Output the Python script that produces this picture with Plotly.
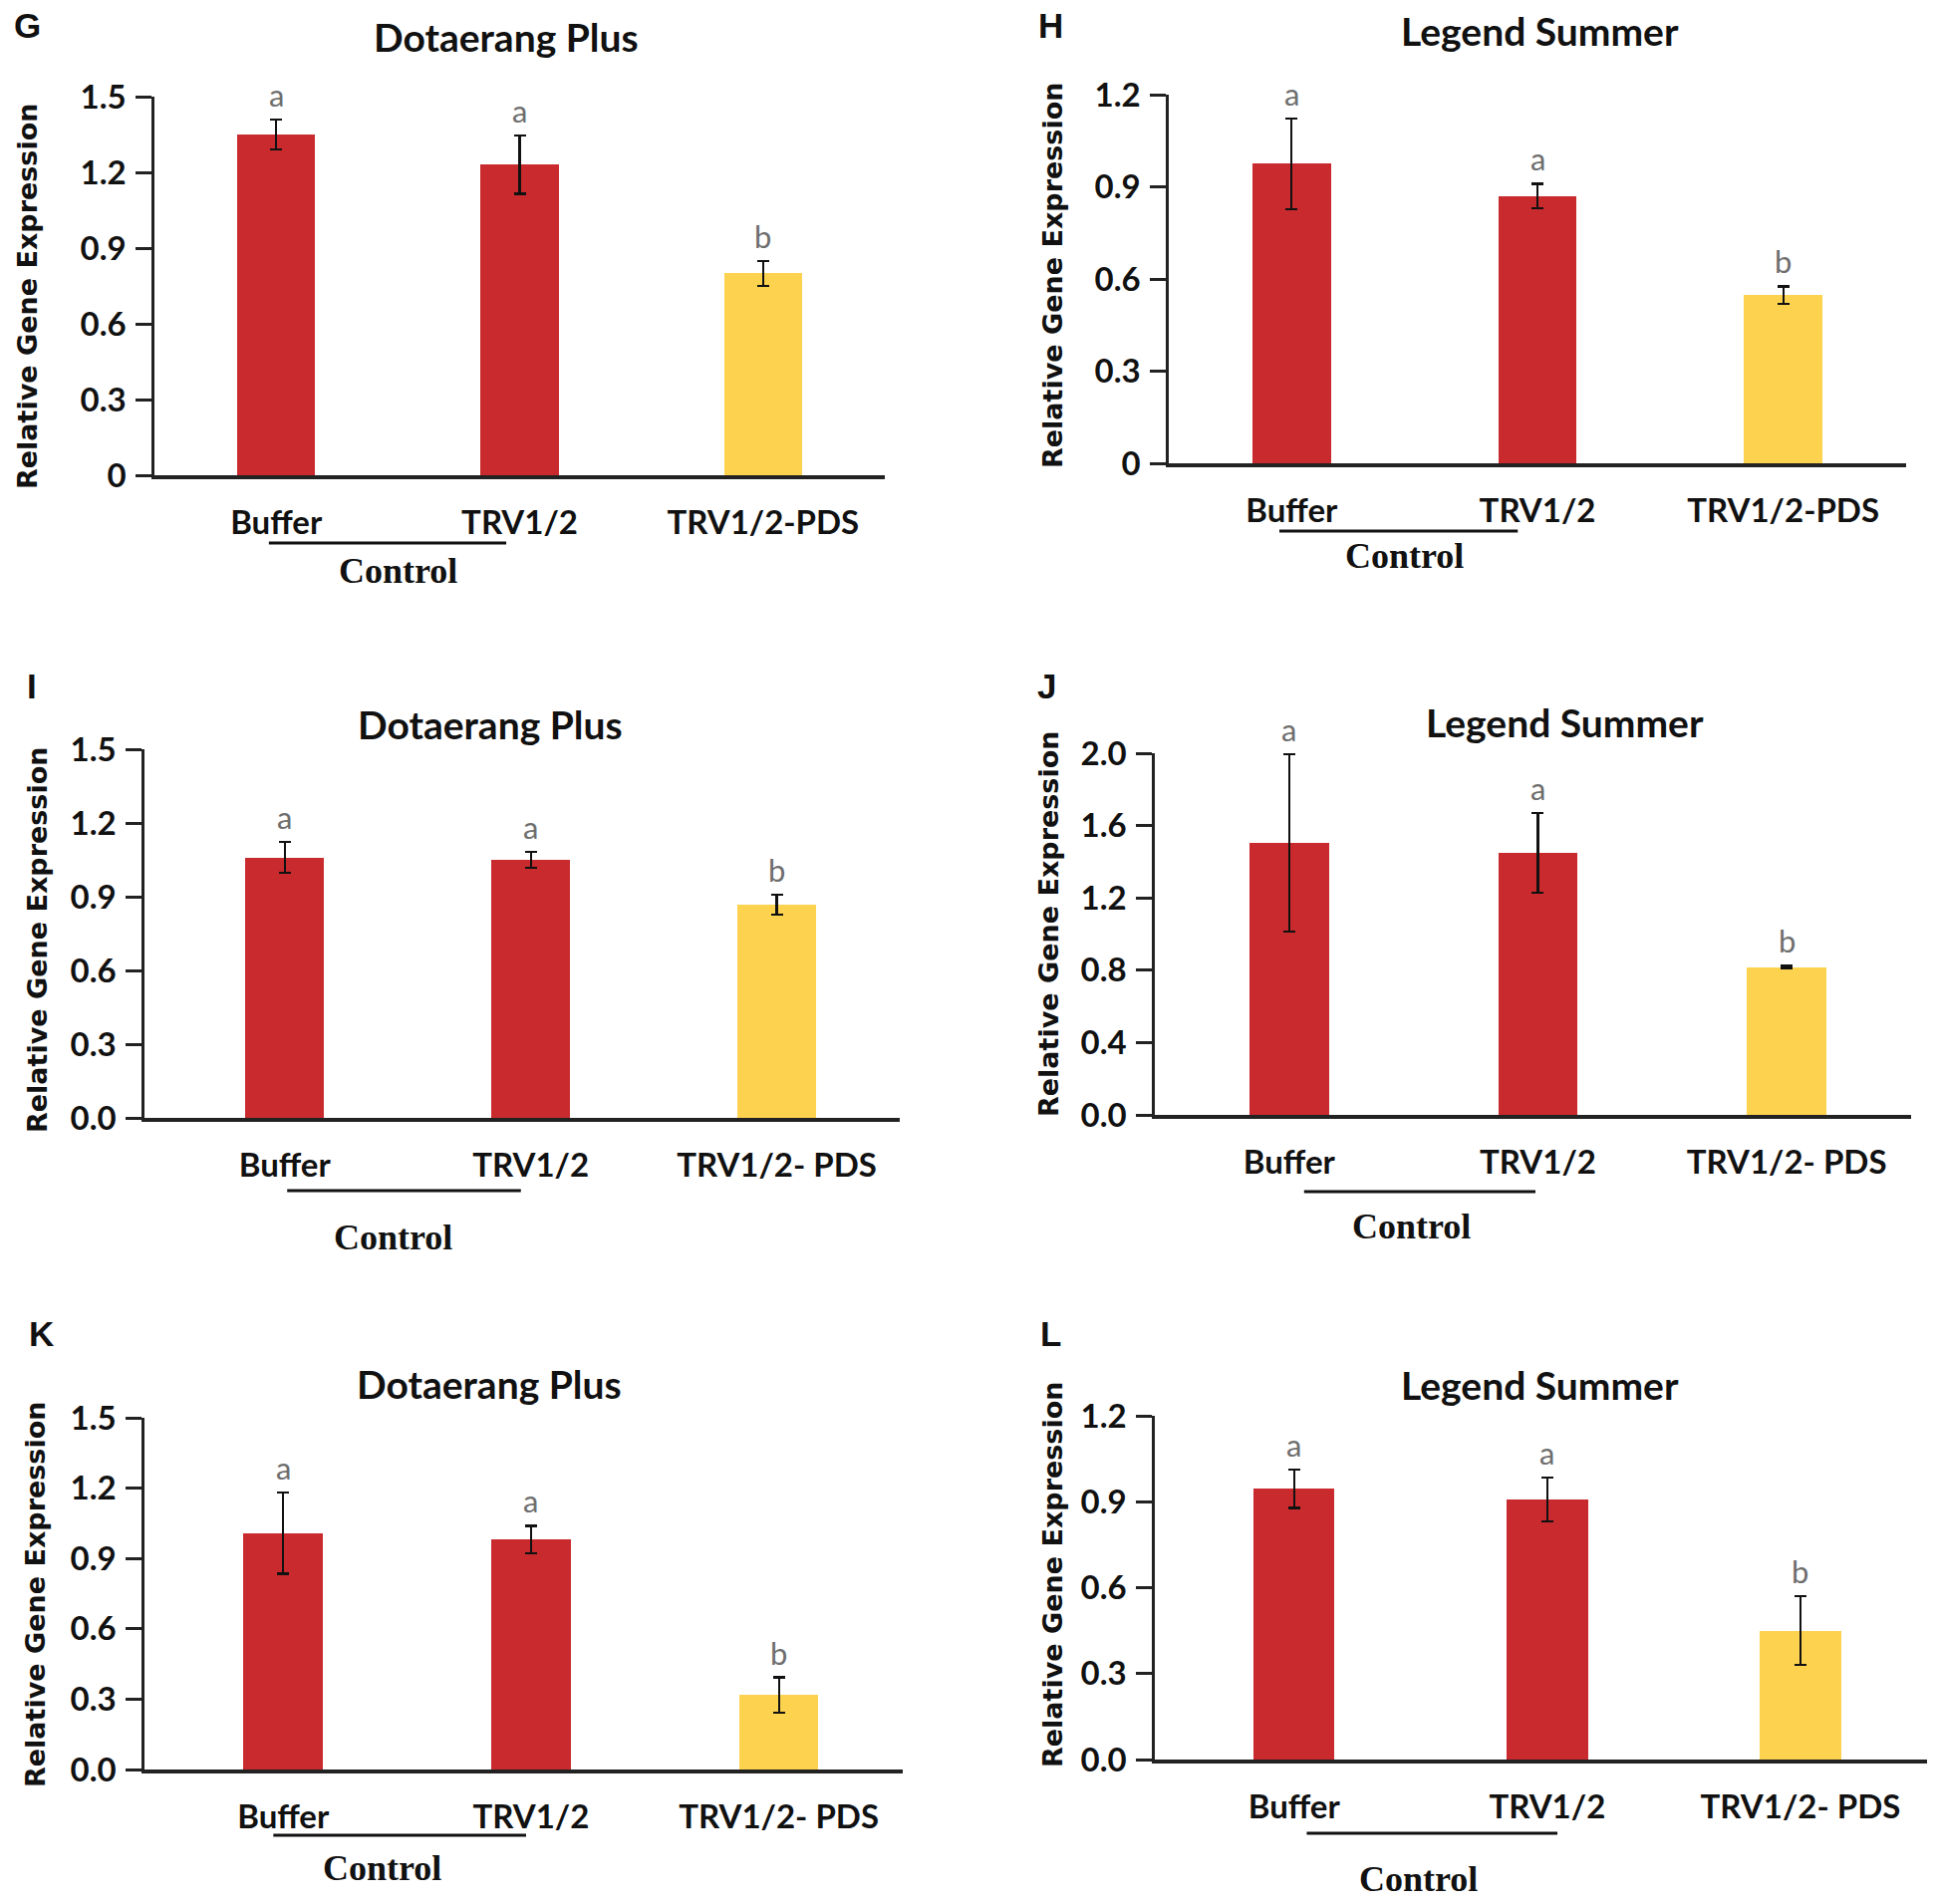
import plotly.graph_objects as go

# ---------------- data ----------------
panel_ids = ["G", "H", "I", "J", "K", "L"]
titles = ["Dotaerang Plus", "Legend Summer", "Dotaerang Plus", "Legend Summer", "Dotaerang Plus", "Legend Summer"]

cats_top = ["Buffer", "TRV1/2", "TRV1/2-PDS"]
cats_low = ["Buffer", "TRV1/2", "TRV1/2- PDS"]
categories = [cats_top, cats_top, cats_low, cats_low, cats_low, cats_low]

values_G = [1.35, 1.23, 0.80]
errors_G = [0.06, 0.115, 0.05]
values_H = [0.975, 0.87, 0.547]
errors_H = [0.148, 0.04, 0.029]
values_I = [1.06, 1.05, 0.868]
errors_I = [0.063, 0.033, 0.041]
values_J = [1.505, 1.448, 0.816]
errors_J = [0.49, 0.22, 0.008]
values_K = [1.008, 0.981, 0.317]
errors_K = [0.173, 0.058, 0.076]
values_L = [0.945, 0.908, 0.45]
errors_L = [0.067, 0.076, 0.12]
values = [values_G, values_H, values_I, values_J, values_K, values_L]
errors = [errors_G, errors_H, errors_I, errors_J, errors_K, errors_L]

sig_letters = ["a", "a", "b"]
group_label = "Control"
y_title = "Relative Gene Expression"

ticks_15_G = [0, 0.3, 0.6, 0.9, 1.2, 1.5]
ticktext_15_G = ["0", "0.3", "0.6", "0.9", "1.2", "1.5"]
ticks_12_H = [0, 0.3, 0.6, 0.9, 1.2]
ticktext_12_H = ["0", "0.3", "0.6", "0.9", "1.2"]
ticktext_15 = ["0.0", "0.3", "0.6", "0.9", "1.2", "1.5"]
ticks_20 = [0, 0.4, 0.8, 1.2, 1.6, 2.0]
ticktext_20 = ["0.0", "0.4", "0.8", "1.2", "1.6", "2.0"]
ticktext_12 = ["0.0", "0.3", "0.6", "0.9", "1.2"]
y_tickvals = [ticks_15_G, ticks_12_H, ticks_15_G, ticks_20, ticks_15_G, ticks_12_H]
y_ticktext = [ticktext_15_G, ticktext_12_H, ticktext_15, ticktext_20, ticktext_15, ticktext_12]
y_max = [1.5, 1.2, 1.5, 2.0, 1.5, 1.2]

# ---------------- layout geometry (pixels) ----------------
W, H = 1944, 1911
RED = "#C92A2E"
YELLOW = "#FDD24F"
bar_colors = [RED, RED, YELLOW]

# x_left, x_right, y_zero, y_top, x_range_start
geom = [
    (155, 888, 477, 97, -0.50),
    (1173, 1913, 465, 95, -0.50),
    (145, 903, 1122, 752, -0.57),
    (1159, 1918, 1119, 756, -0.54),
    (145, 906, 1776, 1423, -0.56),
    (1159, 1934, 1766, 1421, -0.55),
]
title_pos = [(508, 37), (1545, 31), (492, 727), (1570, 725), (491, 1389), (1545, 1390)]
letter_pos = [(27, 25), (1054, 25), (32, 688), (1050, 688), (41, 1338), (1054, 1338)]
ytitle_pos = [(27, 298), (1056, 277), (37, 944), (1053, 928), (35, 1601), (1056, 1581)]
ctrl_line = [(-0.03, 0.945, 545), (-0.05, 0.92, 533), (0.01, 0.96, 1195), (0.06, 0.99, 1196),
             (-0.04, 0.98, 1842), (0.05, 1.04, 1840)]
ctrl_text = [(0.50, 573), (0.46, 558), (0.44, 1242), (0.49, 1231), (0.40, 1875), (0.49, 1886)]


def px(x):
    return x / W


def py(y):
    return 1 - y / H


fig = go.Figure()
annotations = []
shapes = []

for k in range(6):
    ax = "" if k == 0 else str(k + 1)
    xl, xr, y0, yt, xs = geom[k]
    fig.add_trace(go.Bar(
        x=[0, 1, 2], y=values[k],
        error_y=dict(type="data", array=errors[k], visible=True, color="#111111", thickness=2.2, width=6),
        marker=dict(color=bar_colors, line=dict(width=0)),
        width=0.32, xaxis="x" + ax, yaxis="y" + ax, showlegend=False, hoverinfo="skip",
    ))
    fig.layout["xaxis" + ax] = dict(
        domain=[px(xl), px(xr)], range=[xs, 2.5], anchor="y" + ax,
        tickvals=[0, 1, 2], ticktext=categories[k], ticks="",
        showline=True, linecolor="#222222", linewidth=3.5, automargin=False,
        showgrid=False, zeroline=False, ticklabelstandoff=16,
        tickfont=dict(family="Lato", size=33, color="#111111", weight=700),
    )
    fig.layout["yaxis" + ax] = dict(
        domain=[py(y0), py(yt)], range=[0, y_max[k]], anchor="x" + ax,
        tickvals=y_tickvals[k], ticktext=y_ticktext[k], automargin=False,
        ticks="outside", ticklen=16, tickwidth=2.5, tickcolor="#222222",
        showline=True, linecolor="#222222", linewidth=2.5,
        showgrid=False, zeroline=False, ticklabelstandoff=3,
        tickfont=dict(family="Lato", size=33, color="#111111", weight=700),
    )
    # significance letters
    for i in range(3):
        annotations.append(dict(
            x=i, y=values[k][i] + errors[k][i], xref="x" + ax, yref="y" + ax,
            text=sig_letters[i], showarrow=False, yanchor="middle", yshift=25,
            font=dict(family="Lato", size=31, color="#6E6E6E"),
        ))
    # title
    annotations.append(dict(
        x=px(title_pos[k][0]), y=py(title_pos[k][1]), xref="paper", yref="paper",
        text=titles[k], showarrow=False, xanchor="center", yanchor="middle",
        font=dict(family="Lato", size=39, color="#111111", weight=700),
    ))
    # panel letter
    annotations.append(dict(
        x=px(letter_pos[k][0]), y=py(letter_pos[k][1]), xref="paper", yref="paper",
        text=panel_ids[k], showarrow=False, xanchor="center", yanchor="middle",
        font=dict(family="Liberation Sans", size=35, color="#111111", weight=700),
    ))
    # y title
    annotations.append(dict(
        x=px(ytitle_pos[k][0]), y=py(ytitle_pos[k][1]), xref="paper", yref="paper",
        text=y_title, showarrow=False, xanchor="center", yanchor="middle", textangle=-90,
        font=dict(family="DejaVu Sans", size=27, color="#111111", weight=700),
    ))
    # control group line + label
    cx0, cx1, cy = ctrl_line[k]
    shapes.append(dict(
        type="line", xref="x" + ax, yref="paper", x0=cx0, x1=cx1, y0=py(cy), y1=py(cy),
        line=dict(color="#111111", width=2.8),
    ))
    tx, ty = ctrl_text[k]
    annotations.append(dict(
        x=tx, y=py(ty), xref="x" + ax, yref="paper",
        text=group_label, showarrow=False, xanchor="center", yanchor="middle",
        font=dict(family="Liberation Serif", size=36, color="#111111", weight=700),
    ))

fig.update_layout(
    template="none",
    width=W, height=H, margin=dict(l=0, r=0, t=0, b=0, pad=0, autoexpand=False),
    paper_bgcolor="white", plot_bgcolor="white",
    annotations=annotations, shapes=shapes, bargap=0, showlegend=False,
)

fig.write_html(
    "out.html",
    config={"displayModeBar": False},
    post_script="document.body.style.margin='0';document.body.style.overflow='hidden';",
)
